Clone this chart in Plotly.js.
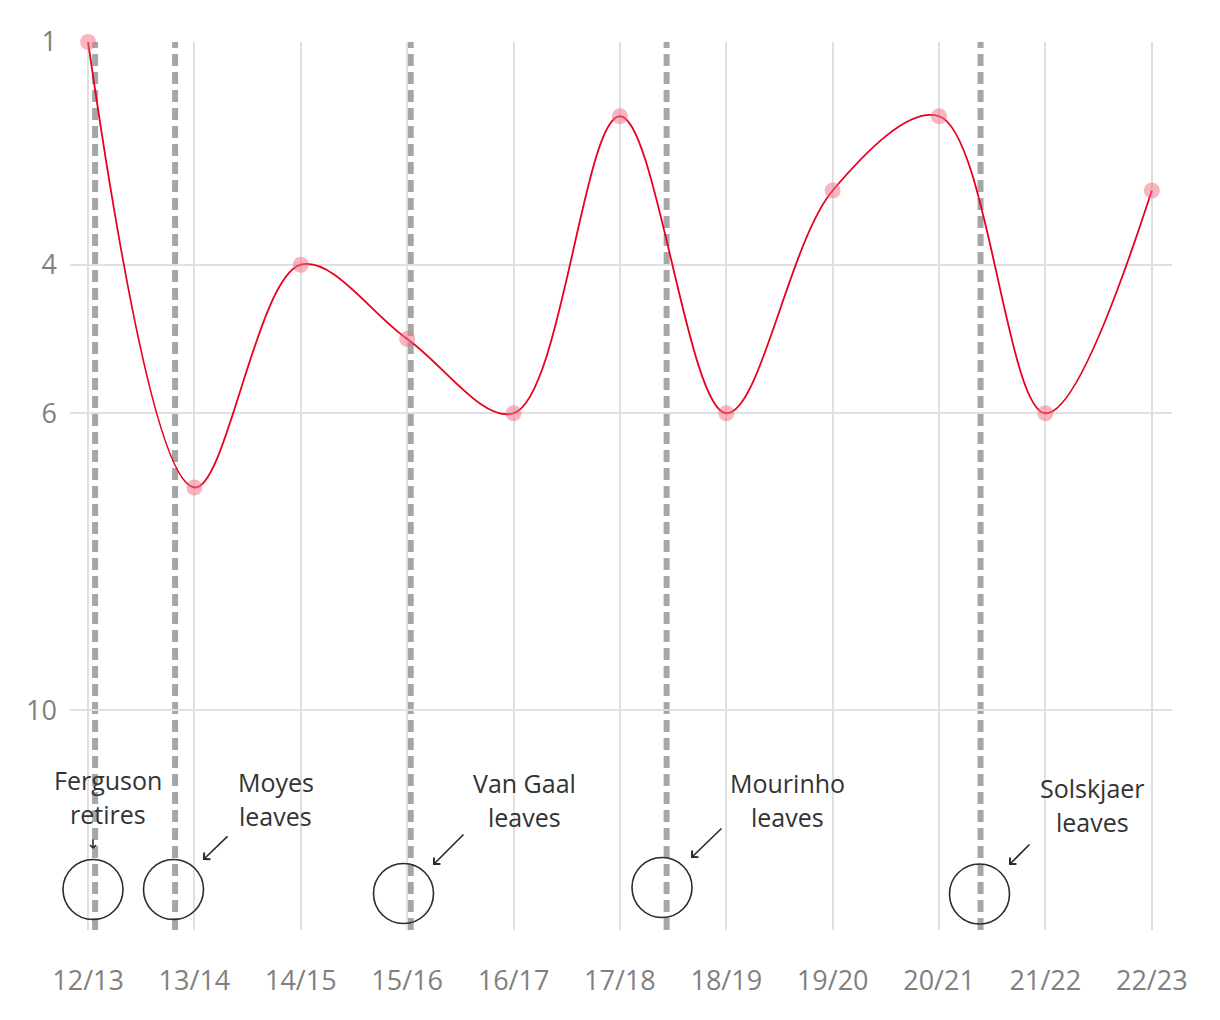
<!DOCTYPE html>
<html>
<head>
<meta charset="utf-8">
<script src="https://cdn.plot.ly/plotly-3.0.1.min.js"></script>
<style>html,body{margin:0;padding:0;background:#fff}#chart{width:1220px;height:1020px}</style>
</head>
<body>
<div id="chart"></div>
<script>
// Data
const seasons = ["12/13","13/14","14/15","15/16","16/17","17/18","18/19","19/20","20/21","21/22","22/23"];
const leaguePosition = [1, 7, 4, 5, 6, 2, 6, 3, 2, 6, 3];
const yTickValues = [1, 4, 6, 10];
// Manager changes: label lines and when they happened (fractional season index)
const changeLine1 = ["Ferguson", "Moyes", "Van Gaal", "Mourinho", "Solskjaer"];
const changeLine2 = ["retires", "leaves", "leaves", "leaves", "leaves"];
const changeSeasonIndex = [0.066, 0.818, 3.033, 5.439, 8.39];

// ---- layout furniture (pixel placements) ----
const W = 1220, H = 1020, M = {l: 70, r: 48, t: 42, b: 90};
const PW = W - M.l - M.r, PH = H - M.t - M.b;
const px2x = p => (p - M.l) / PW;
const px2y = p => (H - M.b - p) / PH;

const circlePx = [[93, 889.5], [173.5, 889.5], [403.5, 893.5], [662, 887.5], [979.5, 894]];
const R = 30;
const labelPx = [[108, 780, 814], [275.5, 782, 815.5], [524, 783, 817], [787.5, 783, 817], [1092.5, 788, 822]];
const arrowPx = [
  {hx: 93, hy: 849, tx: 93, ty: 838, s: 0.75},
  {hx: 203, hy: 860, tx: 229, ty: 835, s: 1.1},
  {hx: 433, hy: 865, tx: 465, ty: 833, s: 1.1},
  {hx: 691, hy: 858, tx: 723, ty: 827, s: 1.1},
  {hx: 1009, hy: 865, tx: 1031, ty: 843, s: 1.1}
];

const FONT = "Open Sans, Lato, sans-serif";
const xIdx = seasons.map((s, i) => i);

const shapes = [];
changeSeasonIndex.forEach(xv => {
  shapes.push({type: 'line', xref: 'x', yref: 'paper', x0: xv, x1: xv, y0: 0, y1: 1,
    layer: 'between', line: {color: '#a6a6a6', width: 6, dash: '12px,6px'}});
});
circlePx.forEach(c => {
  shapes.push({type: 'circle', xref: 'paper', yref: 'paper',
    x0: px2x(c[0] - R), x1: px2x(c[0] + R), y0: px2y(c[1] + R), y1: px2y(c[1] - R),
    layer: 'above', line: {color: '#2b2b2b', width: 1.6}});
});

const annotations = [];
const labelFont = {family: FONT, size: 25, color: '#333333'};
labelPx.forEach((p, i) => {
  annotations.push({x: px2x(p[0]), y: px2y(p[1]), xref: 'paper', yref: 'paper', text: changeLine1[i],
    showarrow: false, xanchor: 'center', yanchor: 'middle', font: labelFont});
  annotations.push({x: px2x(p[0]), y: px2y(p[2]), xref: 'paper', yref: 'paper', text: changeLine2[i],
    showarrow: false, xanchor: 'center', yanchor: 'middle', font: labelFont});
});
arrowPx.forEach(a => {
  annotations.push({x: px2x(a.hx), y: px2y(a.hy), xref: 'paper', yref: 'paper',
    ax: a.tx - a.hx, ay: a.ty - a.hy, text: '', showarrow: true, arrowhead: 4,
    arrowsize: a.s, arrowwidth: 1.6, arrowcolor: '#2b2b2b', standoff: 0, startstandoff: 0});
});

const trace = {
  x: xIdx, y: leaguePosition, type: 'scatter', mode: 'lines+markers',
  line: {shape: 'spline', smoothing: 1, color: '#e8001c', width: 1.8},
  marker: {size: 16, color: 'rgba(240,110,130,0.5)'},
  cliponaxis: false, hoverinfo: 'skip'
};

const layout = {
  width: W, height: H,
  margin: M,
  paper_bgcolor: '#ffffff', plot_bgcolor: '#ffffff',
  showlegend: false,
  font: {family: FONT},
  xaxis: {
    range: [-0.17, 10.19], tickvals: xIdx, ticktext: seasons,
    showgrid: true, gridcolor: '#e0e0e0', gridwidth: 2, zeroline: false, showline: false,
    ticks: '', tickfont: {family: FONT, size: 27, color: '#808080'}, ticklabelstandoff: 32
  },
  yaxis: {
    range: [12.96, 1], tickvals: yTickValues,
    showgrid: true, gridcolor: '#e0e0e0', gridwidth: 2, zeroline: false, showline: false,
    ticks: '', tickfont: {family: FONT, size: 27, color: '#808080'}, ticklabelstandoff: 12
  },
  shapes: shapes,
  annotations: annotations
};

Plotly.newPlot('chart', [trace], layout, {displayModeBar: false, staticPlot: true});
</script>
</body>
</html>
